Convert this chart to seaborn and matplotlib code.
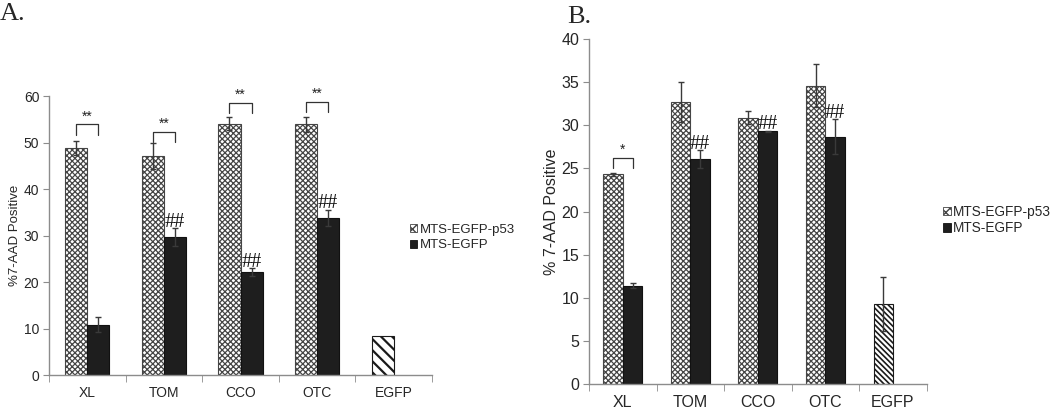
import numpy as np
import pandas as pd
import seaborn as sns
import matplotlib.pyplot as plt
import matplotlib.patches as mpatches
from matplotlib.container import BarContainer

categories = ["XL", "TOM", "CCO", "OTC", "EGFP"]
series = ["MTS-EGFP-p53", "MTS-EGFP"]

# panel A
a_p53 = [48.8, 47.1, 54.1, 53.9, 8.4]
a_p53_err = [1.5, 2.8, 1.4, 1.6, 0.0]
a_egfp = [10.8, 29.7, 22.2, 33.8, np.nan]
a_egfp_err = [1.6, 1.9, 0.8, 1.8, np.nan]
a_stars = ["**", "**", "**", "**", ""]
a_bracket = [53.9, 52.3, 58.6, 58.7, np.nan]
a_hash = ["", "##", "##", "##", ""]

# panel B
b_p53 = [24.3, 32.7, 30.9, 34.6, 9.3]
b_p53_err = [0.15, 2.3, 0.8, 2.5, 3.1]
b_egfp = [11.4, 26.1, 29.3, 28.7, np.nan]
b_egfp_err = [0.3, 1.0, 0.1, 2.0, np.nan]
b_stars = ["*", "", "", "", ""]
b_bracket = [26.2, np.nan, np.nan, np.nan, np.nan]
b_hash = ["", "##", "##", "##", ""]

sns.set_style("white")
plt.rcParams["font.family"] = ["Liberation Sans", "DejaVu Sans"]
SERIF = ["Liberation Serif", "DejaVu Serif"]
AXIS_GREY = "#8c8c8c"
P53_HATCH = "xxxxxx"


def set_hatch_lw(patch, lw):
    if hasattr(patch, "set_hatch_linewidth"):
        patch.set_hatch_linewidth(lw)


def draw_panel(ax, p53, p53_err, egfp, egfp_err, stars, bracket, hashes,
               ymax, ystep, ylabel, leg, ctrl_hatch, ctrl_lw, tick_size):
    df = pd.DataFrame({
        "category": categories * 2,
        "series": [series[0]] * len(categories) + [series[1]] * len(categories),
        "value": list(p53) + list(egfp),
    }).dropna()

    sns.barplot(data=df, x="category", y="value", hue="series",
                order=categories, hue_order=series,
                palette=["white", "#1e1e1e"], saturation=1,
                width=0.575, errorbar=None, legend=False, ax=ax)

    errs = [p53_err, egfp_err]
    centers = {}
    bar_containers = [c for c in ax.containers if isinstance(c, BarContainer)]
    for s, container in enumerate(bar_containers):
        for bar in container:
            if bar is None:
                continue
            cx = bar.get_x() + bar.get_width() / 2
            i = int(round(cx))
            top = bar.get_height()
            centers[(s, i)] = (cx, top)
            if s == 0 and categories[i] == "EGFP":
                bar.set_facecolor("white")
                bar.set_edgecolor("#1a1a1a")
                bar.set_hatch(ctrl_hatch)
                set_hatch_lw(bar, ctrl_lw)
            elif s == 0:
                bar.set_facecolor("white")
                bar.set_edgecolor("#454545")
                bar.set_hatch(P53_HATCH)
                set_hatch_lw(bar, 0.9)
            else:
                bar.set_edgecolor("#111111")
            bar.set_linewidth(0.8)
            e = errs[s][i]
            if e is not None and not np.isnan(e) and e > 0:
                ax.errorbar(cx, top, yerr=e, fmt="none", ecolor="#3a3a3a",
                            elinewidth=1, capsize=2.5, capthick=1, zorder=5)

    # significance brackets between the two bars of a group
    for i, lab in enumerate(stars):
        if not lab:
            continue
        x0 = centers[(0, i)][0]
        x1 = centers[(1, i)][0]
        yb = bracket[i]
        ax.plot([x0, x0, x1, x1], [yb - leg, yb, yb, yb - leg],
                color="#333333", lw=0.9, zorder=6)
        ax.text((x0 + x1) / 2, yb + leg * 0.1, lab, ha="center", va="bottom",
                fontsize=10, color="#222222")

    # ## marks over the MTS-EGFP bars
    for i, lab in enumerate(hashes):
        if not lab:
            continue
        cx, top = centers[(1, i)]
        e = egfp_err[i]
        ax.text(cx, top + e + 0.15 * ystep / 5, lab, ha="center", va="baseline",
                fontsize=14.5, family=SERIF, color="#111111")

    ax.set_ylim(0, ymax)
    ax.set_yticks(np.arange(0, ymax + 0.1, ystep))
    ax.set_xlim(-0.5, len(categories) - 0.5)
    ax.set_xticks(np.arange(-0.5, len(categories), 1), minor=True)
    ax.tick_params(axis="x", which="major", length=0, labelsize=tick_size, pad=8)
    ax.tick_params(axis="x", which="minor", length=5, bottom=True,
                   direction="out", color=AXIS_GREY)
    ax.tick_params(axis="y", length=4, left=True, direction="out",
                   color=AXIS_GREY, labelsize=tick_size, pad=3)
    ax.set_xlabel("")
    ax.set_ylabel(ylabel)
    sns.despine(ax=ax)
    for sp in ("left", "bottom"):
        ax.spines[sp].set_color(AXIS_GREY)
        ax.spines[sp].set_linewidth(1)


def legend_handles():
    h1 = mpatches.Patch(facecolor="white", edgecolor="#454545", hatch="xxxx",
                        linewidth=0.6)
    h2 = mpatches.Patch(facecolor="#1e1e1e", edgecolor="#111111", linewidth=0.6)
    return [h1, h2]


fig = plt.figure(figsize=(10.5, 4.12), dpi=100)
axA = fig.add_axes([0.0467, 0.0898, 0.3647, 0.677])
axB = fig.add_axes([0.561, 0.068, 0.3216, 0.837])

draw_panel(axA, a_p53, a_p53_err, a_egfp, a_egfp_err, a_stars, a_bracket,
           a_hash, 60, 10, "%7-AAD Positive", 2.2, "\\\\\\", 1.6, 10)
draw_panel(axB, b_p53, b_p53_err, b_egfp, b_egfp_err, b_stars, b_bracket,
           b_hash, 40, 5, "% 7-AAD Positive", 1.1, "\\\\\\\\\\\\", 1.2, 11.5)

axA.yaxis.label.set_size(9.5)
axB.yaxis.label.set_size(11.5)
axA.yaxis.set_label_coords(-0.072, 0.5)
axB.yaxis.set_label_coords(-0.089, 0.5)

fig.legend(handles=legend_handles(), labels=series, loc="center left",
           bbox_to_anchor=(0.390, 1 - 237.5 / 412), frameon=False,
           fontsize=9.5, handlelength=0.6, handleheight=0.6,
           handletextpad=0.15, labelspacing=0.3, borderpad=0,
           borderaxespad=0)
fig.legend(handles=legend_handles(), labels=series, loc="center left",
           bbox_to_anchor=(0.898, 1 - 220 / 412), frameon=False,
           fontsize=9.8, handlelength=0.6, handleheight=0.6,
           handletextpad=0.15, labelspacing=0.2, borderpad=0,
           borderaxespad=0)

fig.text(0.0, 0.992, "A.", family=SERIF, fontsize=19, va="top", ha="left")
fig.text(0.540, 0.985, "B.", family=SERIF, fontsize=19, va="top", ha="left")

fig.savefig("out.png", dpi=100)
plt.close(fig)
